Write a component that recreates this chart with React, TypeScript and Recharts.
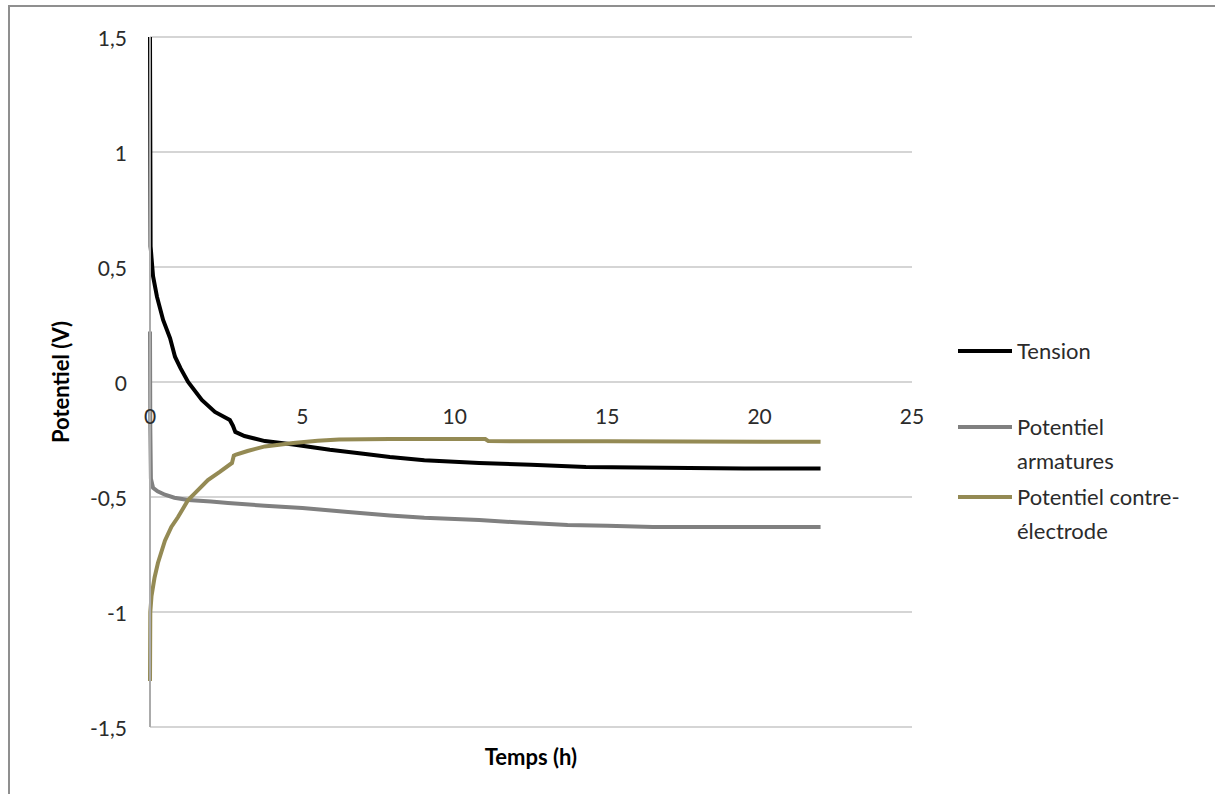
import { LineChart, Line, XAxis, YAxis, CartesianGrid, Label } from "recharts";

// time (h) and potential (V)
const tensionT = [0, 0.02, 0.05, 0.1, 0.23, 0.43, 0.66, 0.82, 1.0, 1.25, 1.7, 2.13, 2.62, 2.72, 2.8, 3.1, 3.77, 4.7, 5.9, 7.0, 7.87, 9.0, 10.8, 12.5, 14.3, 16.0, 17.7, 19.5, 22.0];
const tensionV = [1.5, 0.59, 0.54, 0.46, 0.37, 0.27, 0.19, 0.11, 0.06, 0, -0.078, -0.13, -0.165, -0.19, -0.217, -0.235, -0.257, -0.272, -0.295, -0.312, -0.326, -0.34, -0.352, -0.36, -0.37, -0.372, -0.374, -0.376, -0.376];

const armT = [0, 0.01, 0.03, 0.1, 0.25, 0.49, 0.8, 1.25, 2.0, 2.56, 3.77, 5.0, 6.5, 7.87, 9.0, 10.8, 12.0, 13.7, 15.0, 16.5, 19.0, 22.0];
const armV = [0.22, -0.2, -0.42, -0.46, -0.475, -0.49, -0.503, -0.513, -0.52, -0.526, -0.538, -0.548, -0.565, -0.58, -0.59, -0.6, -0.61, -0.622, -0.625, -0.63, -0.63, -0.63];

const ceT = [0, 0.01, 0.05, 0.15, 0.26, 0.49, 0.7, 0.92, 1.25, 1.5, 1.9, 2.3, 2.69, 2.75, 2.8, 3.2, 3.77, 4.7, 5.5, 6.2, 7.87, 11.0, 11.1, 15.0, 22.0];
const ceV = [-1.3, -1.0, -0.93, -0.85, -0.787, -0.69, -0.63, -0.587, -0.513, -0.48, -0.426, -0.39, -0.352, -0.32, -0.317, -0.3, -0.28, -0.265, -0.255, -0.25, -0.248, -0.248, -0.257, -0.258, -0.26];

const seriesNames = ["Tension", "Potentiel armatures", "Potentiel contre-électrode"];
const seriesColors = ["#000000", "#808080", "#948a54"];

const xTicks = [0, 5, 10, 15, 20, 25];
const yTicks = [-1.5, -1, -0.5, 0, 0.5, 1, 1.5];

const toPoints = (ts: number[], vs: number[]) => ts.map((t, i) => ({ t, v: vs[i] }));
const seriesData = [toPoints(tensionT, tensionV), toPoints(armT, armV), toPoints(ceT, ceV)];

const FONT = "Lato, 'Noto Sans', sans-serif";
const TEXT = "#2b2b2b";
const GRID = "#ababab";

const PLOT_LEFT = 150;
const PLOT_TOP = 37;
const PLOT_BOTTOM = 727;
const Y_MIN = -1.5;
const Y_MAX = 1.5;
const zeroY = PLOT_TOP + ((PLOT_BOTTOM - PLOT_TOP) * Y_MAX) / (Y_MAX - Y_MIN);

const fmt = (v: number) => String(v).replace(".", ",");

const YTick = (props: any) => {
  const { y, payload } = props;
  return (
    <text x={PLOT_LEFT - 23} y={y} textAnchor="end" dominantBaseline="central"
      fontFamily={FONT} fontSize={21} fill={TEXT}>
      {fmt(payload.value)}
    </text>
  );
};

// x tick labels sit under the zero line, like Excel's crossing axis
const XTick = (props: any) => {
  const { x, payload } = props;
  return (
    <text x={x} y={zeroY + 33} textAnchor="middle" dominantBaseline="central"
      fontFamily={FONT} fontSize={21} fill={TEXT}>
      {fmt(payload.value)}
    </text>
  );
};

const YTitle = (props: any) => {
  const cy = props.viewBox.y + props.viewBox.height / 2;
  return (
    <text x={60} y={cy} transform={`rotate(-90, 60, ${cy})`} textAnchor="middle"
      dominantBaseline="central" fontFamily={FONT} fontWeight="bold" fontSize={22} fill="#000">
      Potentiel (V)
    </text>
  );
};

export default function App() {
  return (
    <div style={{ position: "absolute", left: 0, top: 0, width: 1215, height: 794, overflow: "hidden", background: "#fff" }}>
      {/* frame of the original worksheet chart */}
      <div style={{ position: "absolute", left: 8, top: 5, width: 1300, height: 900, borderLeft: "2px solid #8f8f8f", borderTop: "2px solid #8f8f8f" }} />

      <div style={{ position: "absolute", left: 0, top: 0 }}>
        <LineChart width={1215} height={790} margin={{ top: PLOT_TOP, right: 303, bottom: 23, left: 0 }}>
          <CartesianGrid vertical={false} stroke={GRID} strokeWidth={1} />

          <XAxis
            dataKey="t"
            type="number"
            domain={[0, 25]}
            ticks={xTicks}
            height={40}
            axisLine={false}
            tickLine={false}
            tick={<XTick />}
            allowDuplicatedCategory={false}
          >
            <Label value="Temps (h)" position="insideBottom" offset={2}
              style={{ fontFamily: FONT, fontWeight: "bold", fontSize: 22, fill: "#000" }} />
          </XAxis>

          <YAxis
            type="number"
            domain={[Y_MIN, Y_MAX]}
            ticks={yTicks}
            width={PLOT_LEFT}
            axisLine={{ stroke: GRID, strokeWidth: 2 }}
            tickLine={false}
            tick={<YTick />}
            label={<YTitle />}
          />

          {seriesData.map((d, i) => (
            <Line
              key={seriesNames[i]}
              data={d}
              dataKey="v"
              name={seriesNames[i]}
              type="linear"
              stroke={seriesColors[i]}
              strokeWidth={4}
              dot={false}
              isAnimationActive={false}
            />
          ))}
        </LineChart>
      </div>

      {/* legend */}
      <div style={{ position: "absolute", left: 958, top: 334, width: 250, fontFamily: FONT, fontSize: 22, color: TEXT, lineHeight: "34px" }}>
        {seriesNames.map((n, i) => (
          <div key={n} style={{ display: "flex", alignItems: "flex-start", marginBottom: i === 0 ? 42 : 2 }}>
            <div style={{ width: 54, height: 4, background: seriesColors[i], marginTop: 15, marginRight: 5, flexShrink: 0 }} />
            <div style={{ width: 178 }}>{n}</div>
          </div>
        ))}
      </div>
    </div>
  );
}
